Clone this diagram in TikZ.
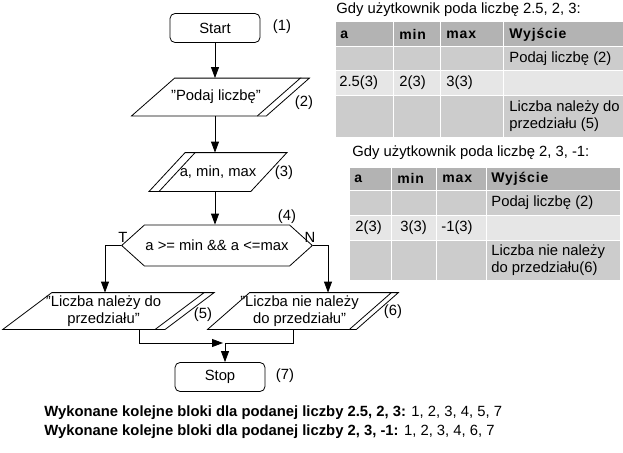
\documentclass[tikz,border=0pt]{standalone}
\usepackage{fontspec}
\setmainfont{Liberation Sans}
\usetikzlibrary{arrows.meta,shapes.symbols,calc}

\definecolor{hdrgray}{HTML}{B3B3B3}
\definecolor{cellgray}{HTML}{CCCCCC}
\definecolor{cellpale}{HTML}{E6E6E6}

% outline of an input/output block around node #1, slant #2
\newcommand{\ioshape}[2]{%
  \draw ($(#1.north west)+(#2,0)$) -- ($(#1.north east)+(#2,0)$)
     -- ($(#1.south east)-(#2,0)$) -- ($(#1.south west)-(#2,0)$) -- cycle;}

\begin{document}
\begin{tikzpicture}[x=1pt,y=-1pt,>={Triangle[width=8pt,length=11pt]},line width=0.8pt,
    every node/.style={font=\fontsize{14.8}{17}\selectfont},
    term/.style={rectangle,rounded corners=5pt,draw,minimum width=90pt,minimum height=29pt},
    io/.style={rectangle,minimum height=37pt,inner sep=0pt,align=center},
    cond/.style={signal,signal to=west and east,draw,minimum width=170pt,minimum height=41pt,signal pointer angle=84,inner sep=1pt},
    tcell/.style={anchor=west,inner sep=0pt,align=left},
    thead/.style={tcell,font=\fontsize{14}{17}\selectfont\bfseries\addfontfeatures{LetterSpace=6}}]
  \useasboundingbox (0,0) rectangle (623,452);

  % flowchart
  \node[term] (start) at (215,28) {Start};
  \node[io,minimum width=125pt] (ask) at (216,97) {"Podaj liczbę"};
  \node[io,minimum width=101pt,minimum height=38pt] (read) at (218,172) {a, min, max};
  \node[cond] (test) at (217,245.5) {a >= min \&\& a <=max};
  \node[io,minimum width=151.5pt,minimum height=36pt] (yes) at (103.5,311) {"Liczba należy do\\przedziału"};
  \node[io,minimum width=141pt,minimum height=36pt] (no) at (299.5,311) {"Liczba nie należy\\do przedziału"};
  \node[term] (stop) at (220,377) {Stop};
  \coordinate (merge) at (225,343);

  \ioshape{ask}{21.5}
  \ioshape{read}{18}
  \ioshape{yes}{24.5}
  \ioshape{no}{21}

  % double edges
  \draw ($(ask.north east)+(21.5,0)$) -- ++(9,0) -- ($(ask.south east)+(-12.5,0)$) -- ++(-9,0);
  \draw ($(read.north west)+(28,0)$) -- ($(read.south west)+(-8,0)$);
  \draw ($(yes.north east)+(24.5,0)$) -- ++(10,0) -- ($(yes.south east)+(-14.5,0)$) -- ++(-10,0);
  \draw ($(no.north east)+(21,0)$) -- ++(7,0) -- ($(no.south east)+(-14,0)$) -- ++(-7,0);

  % numbers
  \node (n1) at (282,27) {(1)};
  \node (n2) at (304,103) {(2)};
  \node (n3) at (284,173) {(3)};
  \node (n4) at (287,217) {(4)};
  \node (n5) at (203,315) {(5)};
  \node (n6) at (393,312) {(6)};
  \node (n7) at (285,376) {(7)};
  \node (lt) at (123,237) {T};
  \node (ln) at (310,237) {N};

  % connectors
  \draw[->] (start.south) -- (start.south |- ask.north);
  \draw[->] (start.south |- ask.south) -- (start.south |- read.north);
  \draw[->] (start.south |- read.south) -- (start.south |- test.north);
  \draw[->] (test.west) -| ([xshift=1.5pt]yes.north);
  \draw[->] (test.east) -| ([xshift=28.5pt]no.north);
  \draw[->] ([xshift=35.5pt]yes.south) |- ([xshift=-2pt]merge);
  \draw ([xshift=-6.5pt]no.south) |- (merge);
  \draw[->] (merge) -- (merge |- stop.north);

  % table 1
  \node[anchor=west,inner sep=0pt] (title1) at (336,10) {Gdy użytkownik poda liczbę 2.5, 2, 3:};
  \foreach \ya/\yb/\col in {22/47/hdrgray,47/70/cellgray,70/95/cellpale,95/137/cellgray}
    \foreach \xa/\xb in {335/393,393/440,440/503,503/624}
      \fill[\col] (\xa+0.5,\ya+0.5) rectangle (\xb-0.5,\yb-0.5);
  \node[thead] (h1a) at (340,34.5) {a};
  \node[thead] (h1b) at (399,34.5) {min};
  \node[thead] (h1c) at (446,34.5) {max};
  \node[thead] (h1d) at (509,34.5) {Wyjście};
  \node[tcell] (c1a) at (509,58.5) {Podaj liczbę (2)};
  \node[tcell] (c1b) at (339,82.5) {2.5(3)};
  \node[tcell] (c1c) at (399,82.5) {2(3)};
  \node[tcell] (c1d) at (446,82.5) {3(3)};
  \node[tcell] (c1e) at (509,116) {Liczba należy do\\przedziału (5)};

  % table 2
  \node[anchor=west,inner sep=0pt] (title2) at (352,153) {Gdy użytkownik poda liczbę 2, 3, -1:};
  \foreach \ya/\yb/\col in {167/190/hdrgray,190/215/cellgray,215/240/cellpale,240/280/cellgray}
    \foreach \xa/\xb in {349/391,391/436,436/486,486/620}
      \fill[\col] (\xa+0.5,\ya+0.5) rectangle (\xb-0.5,\yb-0.5);
  \node[thead] (h2a) at (354,178.5) {a};
  \node[thead] (h2b) at (397,178.5) {min};
  \node[thead] (h2c) at (442,178.5) {max};
  \node[thead] (h2d) at (491,178.5) {Wyjście};
  \node[tcell] (c2a) at (491,202.5) {Podaj liczbę (2)};
  \node[tcell] (c2b) at (355,227.5) {2(3)};
  \node[tcell] (c2c) at (400,227.5) {3(3)};
  \node[tcell] (c2d) at (441,227.5) {-1(3)};
  \node[tcell] (c2e) at (491,260) {Liczba nie należy\\do przedziału(6)};

  % summary
  \node[anchor=west,inner sep=0pt,font=\fontsize{14.8}{17}\selectfont] (sum1) at (44,413)
    {\bfseries Wykonane kolejne bloki dla podanej liczby 2.5, 2, 3:\mdseries{} 1, 2, 3, 4, 5, 7};
  \node[anchor=west,inner sep=0pt,font=\fontsize{14.8}{17}\selectfont] (sum2) at (44,432)
    {\bfseries Wykonane kolejne bloki dla podanej liczby 2, 3, -1:\mdseries{} 1, 2, 3, 4, 6, 7};
\end{tikzpicture}
\end{document}
